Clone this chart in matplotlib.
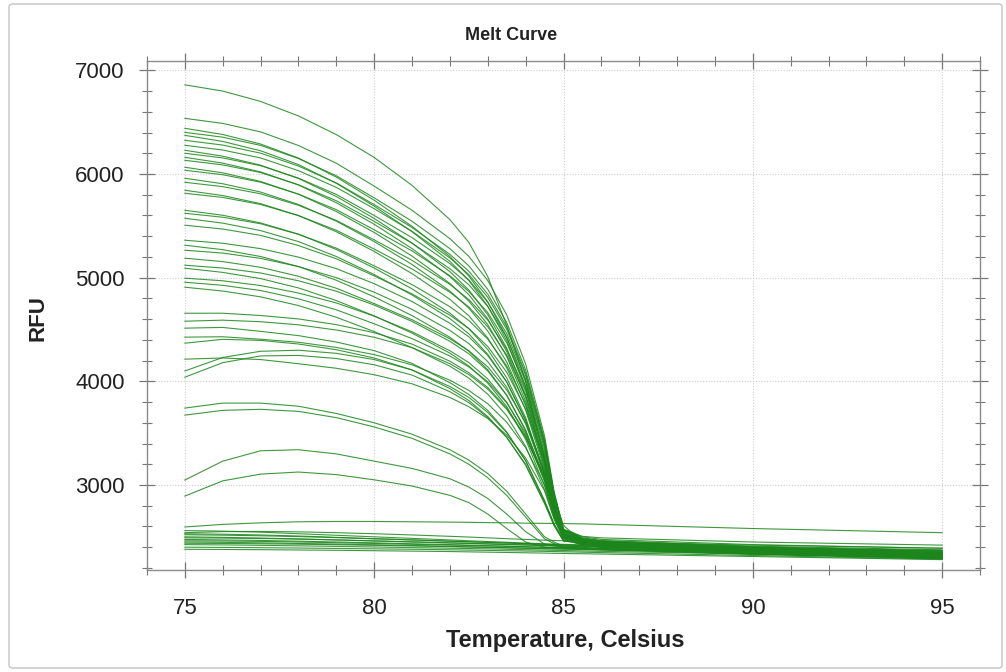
import matplotlib
matplotlib.use("Agg")
import matplotlib.pyplot as plt
from matplotlib.patches import FancyBboxPatch
from matplotlib.ticker import MultipleLocator

# Temperatures (Celsius) at which each curve is read
temps = [75, 76, 77, 78, 79, 80, 81, 82, 82.5, 83, 83.5, 84, 84.5, 84.75, 85, 85.25, 85.5, 86, 90, 95]

# Highest single curve
rfu_top = [[6860, 6800, 6700, 6560, 6380, 6160, 5890, 5560, 5340, 5010, 4540, 4000, 3250, 2880, 2610, 2530, 2505, 2490, 2450, 2420]]

# Upper cluster (start 5500-6550 RFU)
rfu_high = [
    [6537, 6488, 6406, 6275, 6104, 5883, 5650, 5376, 5205, 4972, 4641, 4167, 3472, 2939, 2573, 2542, 2500, 2475, 2425, 2390],
    [6441, 6381, 6289, 6154, 5970, 5747, 5495, 5204, 5016, 4765, 4426, 3947, 3268, 2835, 2530, 2505, 2470, 2450, 2400, 2360],
    [6402, 6355, 6276, 6149, 5983, 5770, 5544, 5280, 5114, 4888, 4568, 4110, 3438, 2923, 2568, 2534, 2490, 2465, 2410, 2375],
    [6373, 6314, 6224, 6091, 5910, 5690, 5443, 5157, 4972, 4725, 4392, 3921, 3254, 2829, 2528, 2499, 2460, 2440, 2380, 2340],
    [6325, 6279, 6201, 6077, 5914, 5705, 5484, 5225, 5062, 4841, 4527, 4078, 3419, 2914, 2565, 2528, 2480, 2455, 2395, 2350],
    [6277, 6231, 6155, 6032, 5871, 5665, 5447, 5190, 5029, 4811, 4501, 4057, 3407, 2909, 2563, 2522, 2470, 2440, 2370, 2320],
    [6229, 6172, 6085, 5957, 5783, 5571, 5333, 5058, 4880, 4642, 4321, 3867, 3225, 2815, 2523, 2494, 2455, 2430, 2390, 2345],
    [6200, 6155, 6080, 5960, 5803, 5600, 5386, 5135, 4978, 4764, 4460, 4025, 3388, 2899, 2560, 2528, 2485, 2460, 2405, 2365],
    [6161, 6105, 6020, 5894, 5723, 5515, 5281, 5011, 4836, 4602, 4287, 3842, 3211, 2808, 2521, 2491, 2450, 2425, 2360, 2310],
    [6132, 6088, 6014, 5896, 5742, 5543, 5333, 5086, 4932, 4722, 4424, 3996, 3371, 2891, 2557, 2521, 2475, 2450, 2385, 2335],
    [6065, 6011, 5928, 5805, 5638, 5436, 5208, 4944, 4774, 4547, 4239, 3806, 3191, 2799, 2518, 2487, 2445, 2420, 2370, 2330],
    [6036, 5993, 5921, 5806, 5656, 5462, 5258, 5018, 4867, 4663, 4372, 3956, 3347, 2880, 2553, 2522, 2480, 2455, 2400, 2355],
    [5959, 5906, 5826, 5706, 5545, 5348, 5127, 4871, 4706, 4485, 4187, 3766, 3169, 2788, 2515, 2483, 2440, 2415, 2350, 2300],
    [5920, 5878, 5809, 5698, 5552, 5365, 5167, 4935, 4789, 4591, 4310, 3907, 3318, 2866, 2549, 2515, 2470, 2445, 2390, 2345],
    [5843, 5792, 5714, 5599, 5443, 5253, 5039, 4791, 4632, 4418, 4130, 3722, 3146, 2778, 2512, 2484, 2445, 2420, 2365, 2320],
    [5814, 5774, 5706, 5599, 5457, 5276, 5084, 4859, 4717, 4526, 4253, 3863, 3291, 2853, 2545, 2510, 2465, 2440, 2380, 2330],
    [5650, 5602, 5528, 5420, 5272, 5093, 4892, 4658, 4508, 4306, 4034, 3650, 3106, 2759, 2506, 2478, 2440, 2415, 2360, 2310],
    [5621, 5583, 5520, 5418, 5285, 5114, 4933, 4720, 4587, 4407, 4150, 3782, 3243, 2830, 2537, 2504, 2460, 2435, 2375, 2325],
    [5573, 5526, 5454, 5348, 5204, 5030, 4833, 4605, 4458, 4261, 3996, 3621, 3090, 2751, 2504, 2475, 2435, 2410, 2350, 2300],
    [5506, 5469, 5408, 5310, 5182, 5017, 4843, 4638, 4510, 4336, 4088, 3734, 3214, 2816, 2532, 2499, 2455, 2430, 2380, 2340],
]

# Middle cluster (start 4900-5400 RFU)
rfu_mid = [
    [5361, 5332, 5280, 5198, 5087, 4942, 4770, 4560, 4429, 4249, 3993, 3629, 3120, 2759, 2497, 2474, 2440, 2415, 2360, 2315],
    [5313, 5270, 5204, 5107, 4975, 4815, 4634, 4425, 4291, 4111, 3867, 3524, 3037, 2726, 2496, 2471, 2435, 2410, 2345, 2295],
    [5265, 5237, 5186, 5107, 5000, 4860, 4694, 4491, 4364, 4190, 3942, 3590, 3097, 2748, 2494, 2477, 2450, 2425, 2370, 2330],
    [5188, 5155, 5100, 5013, 4898, 4750, 4594, 4410, 4295, 4139, 3918, 3600, 3135, 2778, 2520, 2495, 2460, 2430, 2375, 2325],
    [5120, 5093, 5045, 4970, 4869, 4736, 4578, 4386, 4266, 4100, 3865, 3531, 3064, 2733, 2490, 2465, 2430, 2405, 2340, 2290],
    [5091, 5051, 4991, 4901, 4779, 4631, 4465, 4272, 4148, 3982, 3757, 3440, 2991, 2705, 2489, 2470, 2440, 2415, 2355, 2305],
    [4995, 4970, 4924, 4852, 4756, 4629, 4478, 4295, 4181, 4023, 3799, 3481, 3035, 2719, 2486, 2471, 2445, 2420, 2365, 2320],
    [4956, 4926, 4876, 4796, 4690, 4555, 4412, 4244, 4139, 3996, 3793, 3503, 3077, 2750, 2510, 2488, 2455, 2425, 2370, 2320],
    [4908, 4871, 4815, 4731, 4618, 4480, 4325, 4146, 4031, 3876, 3667, 3372, 2954, 2687, 2484, 2462, 2430, 2405, 2345, 2300],
]

# Lower cluster (start 2900-4700 RFU)
rfu_low = [
    [4657, 4657, 4635, 4602, 4547, 4469, 4359, 4194, 4083, 3940, 3741, 3465, 3068, 2726, 2496, 2473, 2440, 2415, 2360, 2315],
    [4580, 4590, 4575, 4545, 4495, 4425, 4325, 4170, 4065, 3925, 3730, 3460, 3070, 2729, 2500, 2478, 2445, 2420, 2365, 2320],
    [4513, 4520, 4482, 4441, 4379, 4296, 4173, 3987, 3873, 3719, 3512, 3234, 2842, 2624, 2471, 2456, 2430, 2405, 2350, 2300],
    [4426, 4430, 4406, 4377, 4327, 4258, 4159, 4011, 3912, 3784, 3606, 3359, 3003, 2697, 2489, 2472, 2445, 2420, 2370, 2330],
    [4368, 4405, 4395, 4360, 4305, 4225, 4110, 3930, 3815, 3660, 3460, 3190, 2820, 2609, 2460, 2448, 2425, 2400, 2345, 2295],
    [4214, 4225, 4210, 4170, 4126, 4064, 3976, 3844, 3755, 3641, 3482, 3261, 2944, 2669, 2480, 2465, 2440, 2415, 2365, 2320],
    [4100, 4230, 4290, 4300, 4270, 4210, 4110, 3950, 3845, 3700, 3505, 3235, 2850, 2624, 2465, 2448, 2420, 2395, 2340, 2290],
    [4040, 4180, 4245, 4250, 4220, 4160, 4060, 3900, 3795, 3650, 3460, 3200, 2830, 2613, 2460, 2450, 2430, 2405, 2350, 2305],
    [3742, 3790, 3790, 3760, 3690, 3600, 3490, 3340, 3240, 3110, 2940, 2720, 2500, 2450, 2410, 2405, 2400, 2385, 2340, 2300],
    [3674, 3720, 3730, 3710, 3650, 3560, 3450, 3300, 3200, 3070, 2900, 2690, 2480, 2435, 2400, 2395, 2390, 2380, 2335, 2295],
    [3048, 3230, 3330, 3340, 3300, 3230, 3160, 3060, 2980, 2870, 2720, 2550, 2430, 2412, 2398, 2394, 2390, 2380, 2335, 2300],
    [2893, 3040, 3105, 3125, 3100, 3050, 2990, 2900, 2830, 2720, 2580, 2450, 2400, 2394, 2388, 2386, 2385, 2375, 2330, 2290],
]

# Flat (no melt) curves
rfu_flat = [
    [2595, 2620, 2635, 2645, 2648, 2648, 2645, 2642, 2640, 2637, 2635, 2632, 2630, 2629, 2628, 2626, 2625, 2620, 2580, 2540],
    [2560, 2555, 2545, 2530, 2515, 2500, 2485, 2470, 2462, 2455, 2448, 2440, 2433, 2430, 2428, 2425, 2422, 2418, 2395, 2370],
    [2540, 2550, 2552, 2548, 2540, 2530, 2518, 2505, 2498, 2490, 2482, 2475, 2468, 2465, 2462, 2459, 2456, 2450, 2420, 2390],
    [2530, 2525, 2518, 2508, 2495, 2482, 2470, 2458, 2452, 2446, 2440, 2434, 2428, 2425, 2422, 2420, 2418, 2414, 2390, 2360],
    [2520, 2516, 2510, 2502, 2492, 2481, 2470, 2458, 2452, 2446, 2440, 2433, 2427, 2424, 2421, 2418, 2415, 2410, 2380, 2340],
    [2500, 2495, 2488, 2480, 2470, 2460, 2450, 2440, 2435, 2430, 2425, 2420, 2415, 2412, 2410, 2407, 2405, 2400, 2375, 2345],
    [2490, 2488, 2484, 2478, 2470, 2461, 2452, 2443, 2438, 2433, 2428, 2423, 2418, 2415, 2413, 2410, 2408, 2404, 2380, 2350],
    [2475, 2470, 2465, 2458, 2450, 2442, 2433, 2425, 2420, 2415, 2410, 2405, 2400, 2398, 2396, 2394, 2392, 2388, 2365, 2335],
    [2462, 2460, 2456, 2450, 2443, 2436, 2428, 2420, 2416, 2412, 2408, 2403, 2398, 2396, 2394, 2392, 2390, 2386, 2360, 2325],
    [2450, 2447, 2442, 2436, 2430, 2423, 2416, 2408, 2404, 2400, 2396, 2392, 2388, 2386, 2384, 2382, 2380, 2376, 2352, 2322],
    [2438, 2436, 2433, 2429, 2424, 2418, 2412, 2405, 2401, 2397, 2393, 2389, 2385, 2383, 2381, 2379, 2377, 2373, 2345, 2310],
    [2425, 2422, 2418, 2413, 2408, 2402, 2396, 2390, 2387, 2384, 2380, 2376, 2372, 2370, 2368, 2366, 2364, 2360, 2335, 2300],
    [2400, 2398, 2395, 2392, 2388, 2384, 2380, 2375, 2372, 2369, 2366, 2363, 2360, 2358, 2356, 2354, 2352, 2348, 2320, 2285],
    [2380, 2378, 2376, 2373, 2370, 2366, 2362, 2358, 2355, 2352, 2349, 2346, 2343, 2341, 2340, 2338, 2337, 2334, 2310, 2280],
]

x_ticks = [75, 80, 85, 90, 95]
y_ticks = [3000, 4000, 5000, 6000, 7000]

plt.rcParams['font.family'] = ['Liberation Sans', 'DejaVu Sans']

fig = plt.figure(figsize=(10.06, 6.72), dpi=100)
fig.patch.set_facecolor('white')
ax = fig.add_axes([147/1006, 1-570/672, (980-147)/1006, (570-61)/672])

line_color = '#1c861c'
for group in (rfu_top, rfu_high, rfu_mid, rfu_low, rfu_flat):
    for curve in group:
        ax.plot(temps, curve, color=line_color, lw=0.8, alpha=0.85,
                solid_joinstyle='round')

ax.set_xlim(74, 96)
ax.set_ylim(2180, 7090)
ax.set_xticks(x_ticks)
ax.set_yticks(y_ticks)
ax.xaxis.set_minor_locator(MultipleLocator(1))
ax.yaxis.set_minor_locator(MultipleLocator(200))
ax.tick_params(which='both', direction='inout', top=True, right=True,
               colors='#777777', labelcolor='#222222')
ax.tick_params(which='major', length=12, width=0.9, labelsize=16, pad=10)
ax.tick_params(which='minor', length=7, width=0.8)
ax.tick_params(axis='x', which='major', pad=14)
ax.tick_params(labeltop=False, labelright=False)
for s in ax.spines.values():
    s.set_color('#8a8a8a')
    s.set_linewidth(1.0)
ax.grid(True, which='major', color='#cccccc', lw=0.8, linestyle=(0, (1, 1.5)))
ax.set_axisbelow(True)

fig.text(511/1006, 1-35/672, 'Melt Curve', ha='center', va='center',
         fontsize=13, fontweight='bold', color='#222222')
fig.text(565/1006, 1-641/672, 'Temperature, Celsius', ha='center', va='center',
         fontsize=17, fontweight='bold', color='#222222')
fig.text(38/1006, 1-318/672, 'RFU', ha='center', va='center', rotation=90,
         fontsize=16, fontweight='bold', color='#222222')

border = FancyBboxPatch((9/1006, 4/672), (1002-9)/1006, (668-4)/672,
                        boxstyle='round,pad=0,rounding_size=0.004',
                        transform=fig.transFigure, fill=False,
                        edgecolor='#c4c4c4', lw=1.0)
fig.patches.append(border)

fig.savefig('out.png', dpi=100, facecolor='white')
